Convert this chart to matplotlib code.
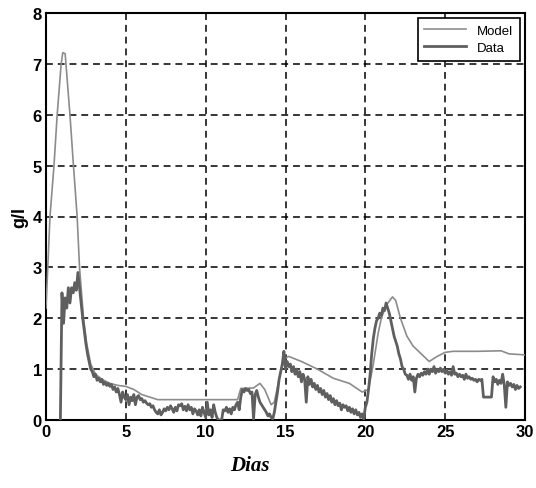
import numpy as np
import matplotlib
matplotlib.use("Agg")
import matplotlib.pyplot as plt

# Model curve (days, g/l)
model_days = [0.0, 0.25, 0.5, 0.7, 0.95, 1.05, 1.2, 1.5, 1.72, 1.95, 2.1, 2.35, 2.55,
              2.8, 3.1, 3.5, 4.0, 4.5, 5.0, 5.5, 6.0, 6.5, 7.0, 12.0, 12.2, 13.0,
              13.4, 13.7, 14.1, 14.3, 14.6, 14.9, 15.2, 16.0, 17.0, 18.0, 19.0,
              19.8, 20.2, 20.5, 20.8, 21.0, 21.3, 21.7, 21.9, 22.2, 22.6, 23.0,
              23.5, 24.0, 24.5, 25.0, 25.5, 27.0, 28.5, 29.0, 30.0]
model_vals = [2.2, 4.0, 5.0, 6.0, 7.0, 7.22, 7.2, 6.0, 5.0, 4.0, 3.0, 2.0, 1.5,
              1.1, 0.9, 0.8, 0.72, 0.68, 0.66, 0.6, 0.5, 0.45, 0.4, 0.4, 0.62, 0.63,
              0.72, 0.6, 0.3, 0.35, 0.8, 1.2, 1.25, 1.15, 1.0, 0.82, 0.72,
              0.55, 0.6, 1.1, 1.7, 2.0, 2.25, 2.42, 2.35, 2.0, 1.65, 1.45,
              1.3, 1.15, 1.25, 1.33, 1.35, 1.35, 1.36, 1.3, 1.28]

# Measured data, sampled every 0.1 day starting at day 0.9
data_start = 0.9
data_step = 0.1
data_vals = [
    0.0,
    2.5, 1.9, 2.4, 2.2, 2.6, 2.3, 2.6, 2.5, 2.7, 2.55,
    2.9, 2.6, 2.3, 2.0, 1.75, 1.5, 1.3, 1.15, 1.0, 0.95,
    0.85, 0.9, 0.78, 0.82, 0.75, 0.8, 0.7, 0.74, 0.68, 0.72,
    0.66, 0.7, 0.6, 0.65, 0.55, 0.62, 0.5, 0.35, 0.55, 0.45,
    0.4, 0.5, 0.3, 0.45, 0.38, 0.5, 0.3, 0.45, 0.48, 0.4,
    0.42, 0.35, 0.38, 0.33, 0.3, 0.32, 0.25, 0.28, 0.2, 0.15,
    0.12, 0.2, 0.1, 0.15, 0.22, 0.18, 0.25, 0.2, 0.28, 0.22,
    0.15, 0.25, 0.18, 0.3, 0.28, 0.32, 0.2, 0.27, 0.18, 0.3,
    0.2, 0.25, 0.12, 0.22, 0.18, 0.1, 0.2, 0.08, 0.25, 0.15,
    0.05, 0.35, 0.1, 0.2, 0.05, 0.3, 0.15, 0.05, 0.0, 0.0,
    0.0, 0.2, 0.18, 0.25, 0.15, 0.22, 0.12, 0.25, 0.2, 0.3,
    0.35, 0.2, 0.45, 0.6, 0.55, 0.62, 0.58, 0.6, 0.52, 0.55,
    0.02, 0.5, 0.58, 0.45, 0.35, 0.3, 0.25, 0.2, 0.15, 0.08,
    0.12, 0.05, 0.02, 0.15, 0.35, 0.55, 0.8, 0.95, 1.1, 1.35,
    1.0, 1.15, 1.05, 1.1, 0.95, 1.05, 0.9, 1.0, 0.85, 0.95,
    0.75, 0.9, 0.8, 0.35, 0.85, 0.7, 0.8, 0.65, 0.72, 0.6,
    0.68, 0.55, 0.62, 0.5, 0.58, 0.45, 0.52, 0.4, 0.48, 0.35,
    0.42, 0.3, 0.38, 0.28, 0.33, 0.2, 0.3, 0.25, 0.28, 0.18,
    0.25, 0.15, 0.22, 0.12, 0.2, 0.1, 0.15, 0.05, 0.12, 0.02,
    0.25, 0.35, 0.6, 0.9, 1.3, 1.6, 1.8, 1.95, 2.0, 2.1,
    2.05, 2.2, 2.15, 2.3, 2.2, 2.1, 1.95, 1.8, 1.65, 1.55,
    1.45, 1.3, 1.2, 1.05, 1.0, 0.9, 0.88, 0.8, 0.9, 0.78,
    0.85, 0.55, 0.82, 0.9, 0.85, 0.92, 0.88, 0.95, 0.9, 1.0,
    0.9, 1.0, 0.95, 1.05, 0.92, 1.0, 0.95, 1.02, 0.95, 1.0,
    0.92, 0.98, 0.9, 0.95, 0.88, 1.05, 0.9, 0.92, 0.85, 0.9,
    0.85, 0.88, 0.8, 0.9, 0.82, 0.85, 0.8, 0.82, 0.78, 0.8,
    0.75, 0.8, 0.78, 0.8, 0.45, 0.45, 0.45, 0.45, 0.45, 0.45,
    0.85, 0.75, 0.8, 0.7, 0.78, 0.72, 0.9, 0.7, 0.25, 0.75,
    0.68, 0.72, 0.65, 0.7, 0.6, 0.68, 0.62, 0.65,
]
data_days = np.round(data_start + data_step * np.arange(len(data_vals)), 2)

x_ticks = [0, 5, 10, 15, 20, 25, 30]
y_ticks = [0, 1, 2, 3, 4, 5, 6, 7, 8]

sans = ["Liberation Sans", "DejaVu Sans"]

fig = plt.figure(figsize=(5.36, 4.89), dpi=100)
ax = fig.add_axes([46 / 536, 1 - 421 / 489, (525 - 46) / 536, (421 - 14) / 489])

ax.plot(model_days, model_vals, color="#8c8c8c", lw=1.2, label="Model", zorder=3)
ax.plot(data_days, data_vals, color="#5f5f5f", lw=2.0, label="Data", zorder=4)

ax.set_xlim(0, 30)
ax.set_ylim(0, 8)
ax.set_xticks(x_ticks)
ax.set_yticks(y_ticks)
tick_font = dict(family=sans, weight="bold", size=12)
ax.set_xticklabels([str(t) for t in x_ticks], **tick_font)
ax.set_yticklabels([str(t) for t in y_ticks], **tick_font)
ax.tick_params(length=0, pad=3)

ax.grid(True, color="black", linestyle=(0, (4.5, 3.2)), linewidth=1.1)
for s in ax.spines.values():
    s.set_linewidth(1.5)
    s.set_color("black")

ax.set_ylabel("g/l", fontsize=13, fontweight="bold", family=sans, labelpad=3)
fig.text(250 / 536, 1 - 466 / 489, "Dias", ha="center", va="center",
         fontsize=15, fontweight="bold", fontstyle="italic", family="Liberation Serif")

leg = ax.legend(loc="upper right", frameon=True, fancybox=False,
                edgecolor="black", framealpha=1, borderaxespad=0.4,
                handlelength=3.2, borderpad=0.5, labelspacing=0.35,
                prop=dict(family=sans, size=9.5))
leg.get_frame().set_linewidth(1.2)

fig.savefig("out.png", dpi=100)
